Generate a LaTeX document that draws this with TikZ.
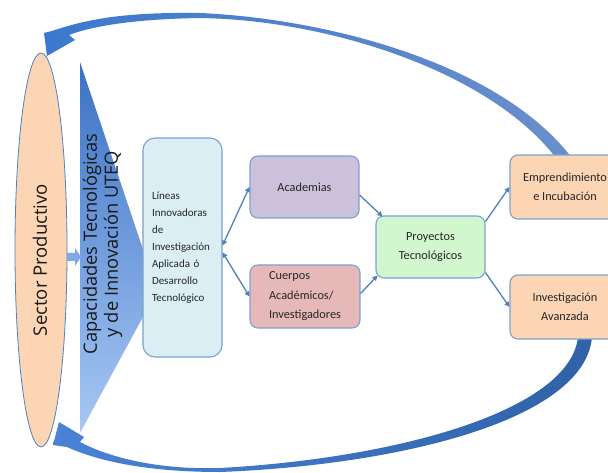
\documentclass[tikz,border=0pt]{standalone}
\usepackage{fontspec}
\setmainfont{Carlito}
\newfontfamily\headfont{Open Sans}
\usetikzlibrary{arrows.meta,shapes.geometric,calc}

\definecolor{peach}{HTML}{FCD5B5}
\definecolor{ellborder}{HTML}{4F81BD}
\definecolor{boxline}{HTML}{7BA1D0}
\definecolor{linkblue}{HTML}{4F81BD}
\definecolor{lineasfill}{HTML}{DAEEF3}
\definecolor{lilac}{HTML}{CCC1DA}
\definecolor{rose}{HTML}{E6B9B8}
\definecolor{mint}{HTML}{D2F7CF}
\definecolor{wedgetop}{HTML}{3B72C4}
\definecolor{wedgebot}{HTML}{A8C8F5}
\definecolor{smallarrow}{HTML}{7EA8E6}
\definecolor{bandA}{HTML}{3B78CF}
\definecolor{bandB}{HTML}{6A8FCB}
\definecolor{bandC}{HTML}{4A82D6}
\definecolor{bandD}{HTML}{7EA3DA}
\definecolor{bandE}{HTML}{2F62A8}

\begin{document}
\begin{tikzpicture}[x=1pt,y=-1pt,
  box/.style={draw=boxline, line width=1.1pt, rounded corners=8pt, align=center,
    inner sep=0pt, text=black!85, font=\fontsize{12.3}{19.5}\selectfont},
  link/.style={draw=linkblue, line width=1.3pt, -{Triangle[length=5pt,width=5pt]}},
  twoway/.style={link, {Triangle[length=5pt,width=5pt]}-{Triangle[length=5pt,width=5pt]}},
  vlabel/.style={rotate=90, align=center, text=black!90}]

\clip (0,0) rectangle (608,473);
\fill[white] (0,0) rectangle (608,473);

% wedge behind the research-lines box
\shade[top color=wedgetop, bottom color=wedgebot] (80,62) -- (157,291) -- (80,433) -- cycle;

% productive sector
\node[ellipse, draw=ellborder, line width=0.8pt, fill=peach, minimum width=52pt,
  minimum height=394pt, inner sep=0pt] (sector) at (41,250) {};
\node[vlabel, font=\headfont\fontsize{18.5}{21}\selectfont] (sectorlabel) at (40,260) {Sector Productivo};

\node[vlabel, font=\headfont\fontsize{18.3}{21}\selectfont] (capac) at (102.5,244)
  {Capacidades Tecnológicas\\y de Innovación UTEQ};

% small block arrow from the sector into the wedge
\fill[smallarrow] (67,253) -- (75,253) -- (75,248) -- (81,257) -- (75,266) -- (75,261) -- (67,261) -- cycle;

% return band from the top right box back to the sector
\shade[left color=bandA, right color=bandB]
  (572,158) .. controls (500,64) and (330,19) .. (200,13)
  .. controls (130,12) and (90,18) .. (52,31)
  -- (44,33) -- (47,56) -- (75,40) -- (69,35)
  .. controls (95,25) and (140,19) .. (200,18)
  .. controls (330,20) and (490,72) .. (556,158) -- cycle;

% return band from the bottom right box back to the sector
\shade[left color=bandC, middle color=bandD, right color=bandE]
  (592,337) .. controls (585,420) and (400,465) .. (220,472)
  .. controls (150,472) and (100,462) .. (67,447)
  -- (53,445) -- (59,422) -- (84,437) -- (80,442)
  .. controls (110,458) and (160,470) .. (220,468)
  .. controls (400,458) and (570,410) .. (578,337) -- cycle;

% boxes
\node[box, rounded corners=12pt, fill=lineasfill, minimum height=219pt, text width=61pt,
  inner xsep=9pt, align=left, font=\fontsize{11}{17}\selectfont] (lineas) at (182.5,247.5)
  {Líneas\\Innovadoras\\de\\Investigación\\Aplicada ó\\Desarrollo\\Tecnológico};
\node[box, fill=lilac, minimum width=109pt, minimum height=62pt] (academias) at (304.5,187) {Academias};
\node[box, fill=rose, minimum width=110pt, minimum height=63pt, align=left] (cuerpos) at (305,296.5)
  {Cuerpos\\Académicos/\\Investigadores};
\node[box, fill=mint, minimum width=109pt, minimum height=62pt] (proyectos) at (430.5,247)
  {Proyectos\\Tecnológicos};
\node[box, fill=peach, minimum width=110pt, minimum height=64pt] (emprend) at (565,187)
  {Emprendimiento\\e Incubación};
\node[box, fill=peach, minimum width=110pt, minimum height=64pt] (investig) at (565,307)
  {Investigación\\Avanzada};

% connectors
\draw[twoway] ([yshift=2pt]lineas.east) -- (academias.west);
\draw[twoway] ([yshift=-5pt]lineas.east) -- (cuerpos.west);
\draw[link] ([yshift=-8pt]academias.east) -- ([xshift=7pt,yshift=-1pt]proyectos.north west);
\draw[link] ([yshift=3pt]cuerpos.east) -- ([xshift=2pt,yshift=3pt]proyectos.south west);
\draw[link] ([yshift=-6pt]proyectos.north east) -- (emprend.west);
\draw[link] ([yshift=6pt]proyectos.south east) -- (investig.west);

\end{tikzpicture}
\end{document}
